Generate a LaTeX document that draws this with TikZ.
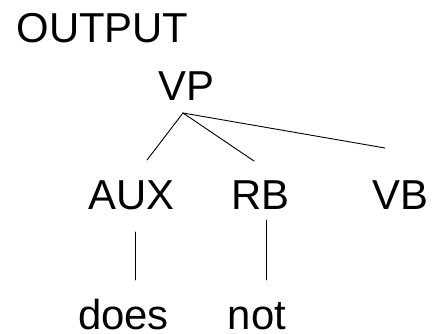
\documentclass[tikz,border=0pt]{standalone}
\usepackage{fontspec}
\setmainfont{Liberation Sans}
\usetikzlibrary{positioning}

\begin{document}
\begin{tikzpicture}[
  x=1bp, y=-1bp,
  % Estilos de texto
  tag/.style={font=\fontsize{42}{50}\selectfont, inner sep=0pt, text depth=0pt, anchor=base},
  % Estilos de ramas
  branch/.style={draw, line width=0.9bp, line cap=round}
]
  \useasboundingbox (0,0) rectangle (432,334);

  % ==========================================
  % ETIQUETAS
  % ==========================================
  \node[tag] (titulo) at (102.5,42) {OUTPUT};
  \node[tag] (vp) at (186,100) {VP};
  \node[tag] (aux) at (131.5,209) {AUX};
  \node[tag] (rb) at (260.5,209) {RB};
  \node[tag] (vb) at (400,209) {VB};
  % sin descendentes: la linea base queda junto al borde
  \node[tag] (does) at (123.5,329) {does};
  \node[tag] (not) at (257,329) {not};

  % Puntos de union de las ramas
  \coordinate (vp_raiz) at (183,113);
  \coordinate (aux_arriba) at (147,160);
  \coordinate (rb_arriba) at (254,161);
  \coordinate (vb_arriba) at (385,148);
  \coordinate (aux_abajo) at (135,232);
  \coordinate (does_arriba) at (135,280);
  \coordinate (rb_abajo) at (266,220);
  \coordinate (not_arriba) at (266,280);

  % ==========================================
  % RAMAS
  % ==========================================
  \draw[branch] (vp_raiz) -- (aux_arriba);
  \draw[branch] (vp_raiz) -- (rb_arriba);
  \draw[branch] (vp_raiz) -- (vb_arriba);
  \draw[branch] (aux_abajo) -- (does_arriba);
  \draw[branch] (rb_abajo) -- (not_arriba);

\end{tikzpicture}
\end{document}
